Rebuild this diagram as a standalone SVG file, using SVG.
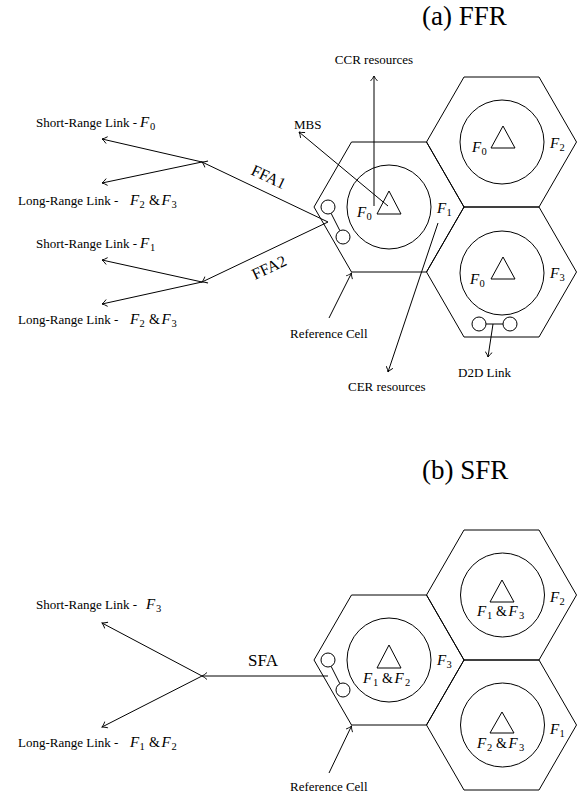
<svg xmlns="http://www.w3.org/2000/svg" width="584" height="797" viewBox="0 0 584 797">
<defs>
<style>
text{font-family:"Liberation Serif","Times New Roman",serif;fill:#000}
.t{font-size:13px}
.ti{font-size:27px}
.fa{font-size:16px}
.mi{font-style:italic;font-size:15px}
.sb{font-size:10.5px}
.am{font-size:14px}
.hex,.cir,.tri,.ue{fill:none;stroke:#000;stroke-width:1}
.ln{fill:none;stroke:#000;stroke-width:1}
</style>
<marker id="arr" viewBox="-6 -4 7 8" refX="0" refY="0" markerWidth="7" markerHeight="8" orient="auto" markerUnits="userSpaceOnUse">
<path d="M-5,-3.5 Q-2,-0.8 0,0 Q-2,0.8 -5,3.5" fill="none" stroke="#000" stroke-width="0.9"/>
</marker>
</defs>
<rect width="584" height="797" fill="#fff"/>

<text class="ti" x="422" y="25">(a) FFR</text>
<text class="ti" x="422" y="479">(b) SFR</text>

<!-- (a) cells -->
<g id="a-ref-cell">
<polygon class="hex" points="314,207 351.5,142 426.5,142 464,207 426.5,272 351.5,272"/>
<circle class="cir" cx="389" cy="207" r="42"/>
<polygon class="tri" points="389,191 377,214 401,214"/>
<text x="357" y="217"><tspan class="mi">F</tspan><tspan class="sb" x="366.5" dy="3">0</tspan></text>
<text x="437" y="213"><tspan class="mi">F</tspan><tspan class="sb" x="446.5" dy="3">1</tspan></text>
<circle class="ue" cx="328" cy="207" r="7"/>
<circle class="ue" cx="343" cy="237" r="7"/>
<line class="ln" x1="331.1" y1="213.3" x2="339.9" y2="230.7"/>
</g>
<g id="a-top-cell">
<polygon class="hex" points="426.5,142 464,77 539,77 576.5,142 539,207 464,207"/>
<circle class="cir" cx="502" cy="142" r="42"/>
<polygon class="tri" points="503,126 491,148 515,148"/>
<text x="472" y="152"><tspan class="mi">F</tspan><tspan class="sb" x="481.5" dy="3">0</tspan></text>
<text x="550" y="148"><tspan class="mi">F</tspan><tspan class="sb" x="559.5" dy="3">2</tspan></text>
</g>
<g id="a-bottom-cell">
<polygon class="hex" points="426.5,272 464,207 539,207 576.5,272 539,337 464,337"/>
<circle class="cir" cx="502" cy="273" r="42"/>
<polygon class="tri" points="503,257 491,279 515,279"/>
<text x="470" y="284"><tspan class="mi">F</tspan><tspan class="sb" x="479.5" dy="3">0</tspan></text>
<text x="550" y="278"><tspan class="mi">F</tspan><tspan class="sb" x="559.5" dy="3">3</tspan></text>
<circle class="ue" cx="479" cy="324" r="7"/>
<circle class="ue" cx="510" cy="324" r="7"/>
<line class="ln" x1="486" y1="324" x2="503" y2="324"/>
</g>

<!-- (b) cells -->
<g id="b-ref-cell">
<polygon class="hex" points="314,660 351.5,595 426.5,595 464,660 426.5,725 351.5,725"/>
<circle class="cir" cx="389" cy="660" r="42"/>
<polygon class="tri" points="389,645 377,668 401,668"/>
<text x="363" y="683"><tspan class="mi">F</tspan><tspan class="sb" x="373" dy="3">1</tspan><tspan class="am" x="382" dy="-3">&amp;</tspan><tspan class="mi" x="394.5">F</tspan><tspan class="sb" x="405" dy="3">2</tspan></text>
<text x="437" y="665"><tspan class="mi">F</tspan><tspan class="sb" x="446.5" dy="3">3</tspan></text>
<circle class="ue" cx="328" cy="660" r="7"/>
<circle class="ue" cx="343" cy="690" r="7"/>
<line class="ln" x1="331.1" y1="666.3" x2="339.9" y2="683.7"/>
</g>
<g id="b-top-cell">
<polygon class="hex" points="426.5,595 464,530 539,530 576.5,595 539,660 464,660"/>
<circle class="cir" cx="502.5" cy="595" r="42"/>
<polygon class="tri" points="502,580 490,602 514,602"/>
<text x="477" y="616"><tspan class="mi">F</tspan><tspan class="sb" x="487" dy="3">1</tspan><tspan class="am" x="496" dy="-3">&amp;</tspan><tspan class="mi" x="508.5">F</tspan><tspan class="sb" x="519" dy="3">3</tspan></text>
<text x="550" y="602"><tspan class="mi">F</tspan><tspan class="sb" x="559.5" dy="3">2</tspan></text>
</g>
<g id="b-bottom-cell">
<polygon class="hex" points="426.5,725 464,660 539,660 576.5,725 539,790 464,790"/>
<circle class="cir" cx="502.5" cy="725" r="42"/>
<polygon class="tri" points="502,712 490,733 514,733"/>
<text x="477" y="748"><tspan class="mi">F</tspan><tspan class="sb" x="487" dy="3">2</tspan><tspan class="am" x="496" dy="-3">&amp;</tspan><tspan class="mi" x="508.5">F</tspan><tspan class="sb" x="519" dy="3">3</tspan></text>
<text x="550" y="734"><tspan class="mi">F</tspan><tspan class="sb" x="559.5" dy="3">1</tspan></text>
</g>

<!-- labels -->
<g id="labels">
<text class="t" x="36" y="127">Short-Range Link - <tspan class="mi" x="140">F</tspan><tspan class="sb" x="150" dy="3">0</tspan></text>
<text class="t" x="18" y="205">Long-Range Link - <tspan class="mi" x="130">F</tspan><tspan class="sb" x="139.5" dy="3">2</tspan><tspan class="am" x="149" dy="-3">&amp;</tspan><tspan class="mi" x="161.5">F</tspan><tspan class="sb" x="171.5" dy="3">3</tspan></text>
<text class="t" x="36" y="248">Short-Range Link - <tspan class="mi" x="140">F</tspan><tspan class="sb" x="150" dy="3">1</tspan></text>
<text class="t" x="18" y="324">Long-Range Link - <tspan class="mi" x="130">F</tspan><tspan class="sb" x="139.5" dy="3">2</tspan><tspan class="am" x="149" dy="-3">&amp;</tspan><tspan class="mi" x="161.5">F</tspan><tspan class="sb" x="171.5" dy="3">3</tspan></text>
<text class="t" x="36" y="609">Short-Range Link - <tspan class="mi" x="146">F</tspan><tspan class="sb" x="156" dy="3">3</tspan></text>
<text class="t" x="18" y="747">Long-Range Link - <tspan class="mi" x="130">F</tspan><tspan class="sb" x="139.5" dy="3">1</tspan><tspan class="am" x="149" dy="-3">&amp;</tspan><tspan class="mi" x="161.5">F</tspan><tspan class="sb" x="171.5" dy="3">2</tspan></text>
<text class="fa" transform="translate(250,174) rotate(25.3)">FFA1</text>
<text class="fa" transform="translate(255,280) rotate(-25.3)">FFA2</text>
<text class="fa" x="248" y="666" style="font-size:17px">SFA</text>
<text class="t" x="374" y="64" text-anchor="middle">CCR resources</text>
<text class="t" x="294" y="129">MBS</text>
<text class="t" x="290" y="338">Reference Cell</text>
<text class="t" x="348" y="391">CER resources</text>
<text class="t" x="458" y="377">D2D Link</text>
<text class="t" x="290" y="791">Reference Cell</text>
</g>

<!-- connectors -->
<g id="connectors">
<line class="ln" x1="328" y1="222" x2="202" y2="162" marker-end="url(#arr)"/>
<line class="ln" x1="202" y1="162" x2="102" y2="139" marker-end="url(#arr)"/>
<line class="ln" x1="202" y1="162" x2="102" y2="183" marker-end="url(#arr)"/>
<line class="ln" x1="328" y1="222" x2="202" y2="282" marker-end="url(#arr)"/>
<line class="ln" x1="202" y1="282" x2="102" y2="260" marker-end="url(#arr)"/>
<line class="ln" x1="202" y1="282" x2="102" y2="304" marker-end="url(#arr)"/>
<line class="ln" x1="374" y1="206" x2="374" y2="76" marker-end="url(#arr)"/>
<line class="ln" x1="388" y1="206" x2="299" y2="132" marker-end="url(#arr)"/>
<line class="ln" x1="438" y1="223" x2="388" y2="372" marker-end="url(#arr)"/>
<line class="ln" x1="329" y1="318" x2="351.5" y2="273" marker-end="url(#arr)"/>
<line class="ln" x1="493" y1="324" x2="488" y2="357" marker-end="url(#arr)"/>
<line class="ln" x1="328" y1="676" x2="202" y2="676" marker-end="url(#arr)"/>
<line class="ln" x1="202" y1="676" x2="102" y2="623" marker-end="url(#arr)"/>
<line class="ln" x1="202" y1="676" x2="102" y2="727" marker-end="url(#arr)"/>
<line class="ln" x1="329" y1="773" x2="351.5" y2="726" marker-end="url(#arr)"/>
</g>
</svg>
